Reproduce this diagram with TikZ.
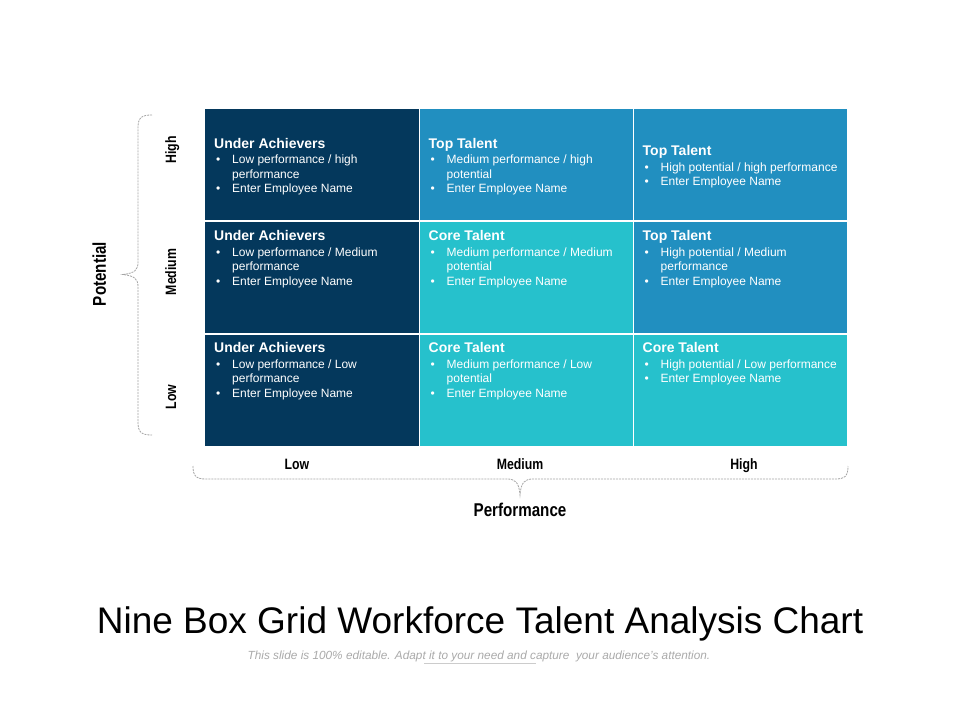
\documentclass[tikz,border=0pt]{standalone}
\usepackage{fontspec}
\setmainfont{Liberation Sans}
\newfontfamily\narrowfont[FakeStretch=0.82]{Liberation Sans}
\definecolor{navy}{RGB}{4,56,92}
\definecolor{midblue}{RGB}{33,143,192}
\definecolor{teal}{RGB}{38,193,204}
\definecolor{bracegray}{RGB}{165,165,165}
\definecolor{subgray}{RGB}{170,170,170}
\newcommand\bl[1]{\makebox[18pt][l]{\hspace{2pt}\textbullet}#1}
\newcommand\cl[1]{\hspace*{18pt}#1}
\newcommand\ttl[1]{{\fontsize{14}{14.5}\selectfont\bfseries #1}}
\begin{document}
\begin{tikzpicture}[x=1pt,y=-1pt,
  cellbox/.style={draw=none, inner sep=0pt, anchor=north west, minimum height=111pt},
  celltext/.style={text=white, align=left, inner sep=0pt, font=\fontsize{12}{14.5}\selectfont},
  axislbl/.style={inner sep=0pt, text height=11pt, text depth=3pt, font=\narrowfont\bfseries\fontsize{15}{18}\selectfont},
  axisttl/.style={inner sep=0pt, text height=13.5pt, text depth=4pt, font=\narrowfont\bfseries\fontsize{18.5}{22}\selectfont},
  bracepath/.style={draw=bracegray, line width=0.8pt, dash pattern=on 2pt off 1pt}]
\useasboundingbox (0,0) rectangle (960,720);
\fill[white] (0,0) rectangle (960,720);
% cells
\node[cellbox, fill=navy,    minimum width=213.5pt] (c11) at (205,109) {};
\node[cellbox, fill=midblue, minimum width=213pt]   (c12) at (419.5,109) {};
\node[cellbox, fill=midblue, minimum width=213.5pt] (c13) at (633.5,109) {};
\node[cellbox, fill=navy,    minimum width=213.5pt] (c21) at (205,222) {};
\node[cellbox, fill=teal,    minimum width=213pt]   (c22) at (419.5,222) {};
\node[cellbox, fill=midblue, minimum width=213.5pt] (c23) at (633.5,222) {};
\node[cellbox, fill=navy,    minimum width=213.5pt] (c31) at (205,335) {};
\node[cellbox, fill=teal,    minimum width=213pt]   (c32) at (419.5,335) {};
\node[cellbox, fill=teal,    minimum width=213.5pt] (c33) at (633.5,335) {};
% row 1 texts (vertically centred)
\node[celltext, anchor=west, xshift=9pt, yshift=-2pt] (t11) at (c11.west) {\ttl{Under Achievers}\\[1pt]\bl{Low performance / high}\\\cl{performance}\\\bl{Enter Employee Name}};
\node[celltext, anchor=west, xshift=9pt, yshift=-2pt] (t12) at (c12.west) {\ttl{Top Talent}\\[1pt]\bl{Medium performance / high}\\\cl{potential}\\\bl{Enter Employee Name}};
\node[celltext, anchor=west, xshift=9pt, yshift=-2pt] (t13) at (c13.west) {\ttl{Top Talent}\\[1pt]\bl{High potential / high performance}\\\bl{Enter Employee Name}};
% row 2 texts
\node[celltext, anchor=north west, xshift=9pt, yshift=-8.5pt] (t21) at (c21.north west) {\ttl{Under Achievers}\\[1pt]\bl{Low performance / Medium}\\\cl{performance}\\\bl{Enter Employee Name}};
\node[celltext, anchor=north west, xshift=9pt, yshift=-8.5pt] (t22) at (c22.north west) {\ttl{Core Talent}\\[1pt]\bl{Medium performance / Medium}\\\cl{potential}\\\bl{Enter Employee Name}};
\node[celltext, anchor=north west, xshift=9pt, yshift=-8.5pt] (t23) at (c23.north west) {\ttl{Top Talent}\\[1pt]\bl{High potential / Medium}\\\cl{performance}\\\bl{Enter Employee Name}};
% row 3 texts
\node[celltext, anchor=north west, xshift=9pt, yshift=-7.5pt] (t31) at (c31.north west) {\ttl{Under Achievers}\\[1pt]\bl{Low performance / Low}\\\cl{performance}\\\bl{Enter Employee Name}};
\node[celltext, anchor=north west, xshift=9pt, yshift=-7.5pt] (t32) at (c32.north west) {\ttl{Core Talent}\\[1pt]\bl{Medium performance / Low}\\\cl{potential}\\\bl{Enter Employee Name}};
\node[celltext, anchor=north west, xshift=9pt, yshift=-7.5pt] (t33) at (c33.north west) {\ttl{Core Talent}\\[1pt]\bl{High potential / Low performance}\\\bl{Enter Employee Name}};
% left axis
\node[axislbl, rotate=90] (pH) at (172,150) {High};
\node[axislbl, rotate=90] (pM) at (172,272) {Medium};
\node[axislbl, rotate=90] (pL) at (172,397) {Low};
\node[axisttl, rotate=90] (pT) at (101,274) {Potential};
\path[bracepath] (152,115) .. controls (141,115) and (138,118) .. (138,128) -- (138,262)
  .. controls (138,270) and (135,273) .. (123,274.5)
  .. controls (135,276) and (138,279) .. (138,287) -- (138,422)
  .. controls (138,432) and (141,435) .. (152,435);
% bottom axis
\node[axislbl] (xL) at (297,465) {Low};
\node[axislbl] (xM) at (520,465) {Medium};
\node[axislbl] (xH) at (744,465) {High};
\node[axisttl] (xT) at (520,512) {Performance};
\path[bracepath] (193,466) .. controls (193,476) and (196,479) .. (206,479) -- (507,479)
  .. controls (515,479) and (519,482) .. (520,495)
  .. controls (521,482) and (525,479) .. (533,479) -- (835,479)
  .. controls (845,479) and (848,476) .. (848,466);
% title
\node[inner sep=0pt, font=\fontsize{37}{40}\selectfont] (title) at (480,624) {Nine Box Grid Workforce Talent Analysis Chart};
\node[inner sep=0pt, text=subgray, font=\itshape\fontsize{11.8}{14}\selectfont] (sub) at (479,656) {This slide is 100\% editable. Adapt it to your need and capture \ your audience’s attention.};
\coordinate (u1) at (424,663.5);
\coordinate (u2) at (536,663.5);
\draw[draw=subgray!60, line width=0.6pt] (u1) -- (u2);
\end{tikzpicture}
\end{document}
